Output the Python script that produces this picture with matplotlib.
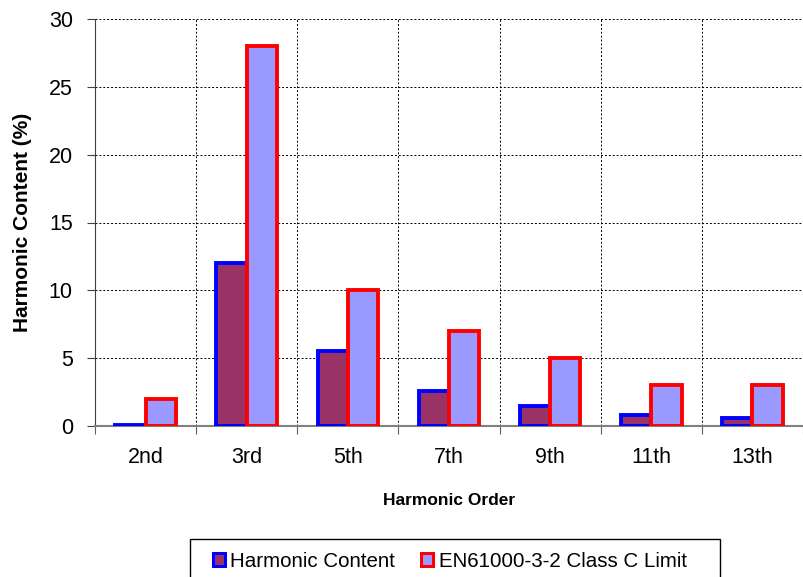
import matplotlib
matplotlib.use("Agg")
import matplotlib.pyplot as plt
from matplotlib.patches import Rectangle
import numpy as np

plt.rcParams['font.family'] = ['Liberation Sans', 'DejaVu Sans']

categories = ["2nd", "3rd", "5th", "7th", "9th", "11th", "13th"]
harmonic_content = [0.1, 12.0, 5.5, 2.6, 1.5, 0.8, 0.6]
class_c_limit = [2, 28, 10, 7, 5, 3, 3]

W, H = 804, 577
fig = plt.figure(figsize=(W/100, H/100), dpi=100)
ax = fig.add_axes([95/W, 1-426/H, 708/W, (426-19)/H])

x = np.arange(len(categories)) + 0.5
w = 0.3
ax.bar(x - w/2, harmonic_content, w, color="#993366", edgecolor="#0000FF",
       linewidth=2.8, label="Harmonic Content", zorder=3)
ax.bar(x + w/2, class_c_limit, w, color="#9999FF", edgecolor="#FF0000",
       linewidth=2.8, label="EN61000-3-2 Class C Limit", zorder=3)

ax.set_xlim(0, len(categories))
ax.set_ylim(0, 30)
ax.set_yticks(np.arange(0, 31, 5))
ax.set_xticks(np.arange(0, len(categories) + 1))
ax.set_xticklabels([])
ax.set_xticks(x, minor=True)
ax.set_xticklabels(categories, minor=True)
ax.tick_params(axis='x', which='minor', length=0, pad=15, labelsize=15.5)
ax.tick_params(axis='x', which='major', length=6, color="#606060")
ax.tick_params(axis='y', labelsize=15.5, length=6, pad=10, color="#404040")

ax.grid(True, which='major', color='black', linestyle=(0, (2, 2)), linewidth=0.7, zorder=0)
for s in ['top', 'right']:
    ax.spines[s].set_visible(False)
ax.spines['left'].set_color('#404040')
ax.spines['bottom'].set_color('#808080')
ax.spines['bottom'].set_linewidth(1.5)

ax.set_ylabel("Harmonic Content (%)", fontsize=15, fontweight='bold', labelpad=12)
ax.set_xlabel("Harmonic Order", fontsize=12.5, fontweight='bold', labelpad=18)

# legend frame
frame = Rectangle((190/W, -0.01), (720-190)/W, 0.01 + (577-539)/H,
                  transform=fig.transFigure, facecolor='white', edgecolor='black',
                  linewidth=1.0, zorder=1)
fig.patches.append(frame)

leg = fig.legend(loc='upper left', bbox_to_anchor=(213/W, 1-552/H), ncol=2,
                 fontsize=14.8, frameon=False,
                 handlelength=0.6, handleheight=0.6, handletextpad=0.25,
                 columnspacing=1.25, borderpad=0, borderaxespad=0)
leg.set_zorder(5)
for h in leg.legend_handles:
    h.set_linewidth(2.2)

fig.savefig("out.png", dpi=100)
